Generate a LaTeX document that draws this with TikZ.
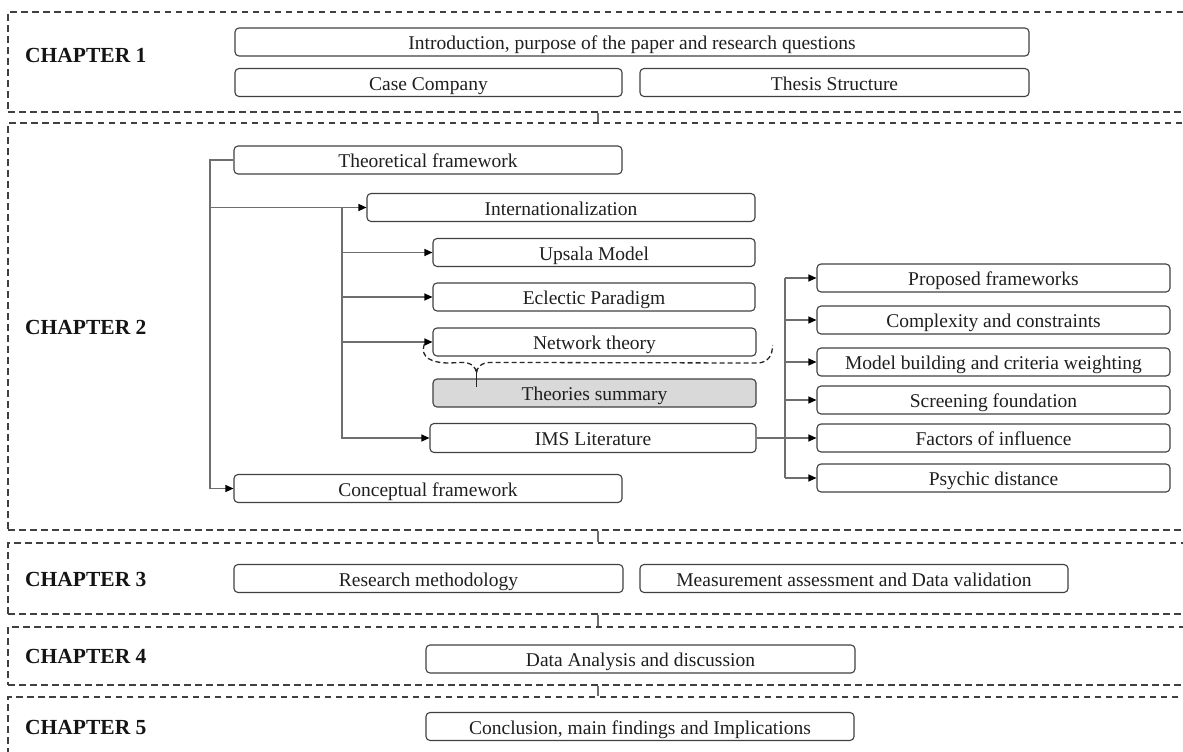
\documentclass[tikz,border=0pt]{standalone}
\usepackage{fontspec}
\setmainfont{Liberation Serif}
\usetikzlibrary{arrows.meta,calc}
\definecolor{bord}{HTML}{404040}
\definecolor{lin}{HTML}{6E6E6E}
\definecolor{dash}{HTML}{404040}
\definecolor{sumfill}{HTML}{D9D9D9}
\begin{document}
\begin{tikzpicture}[x=1pt,y=-1pt,
  bx/.style={draw=bord,line width=1.1pt,rounded corners=4pt,minimum height=28pt,inner sep=0pt,
     text height=16pt,text depth=1pt,
     text=black!88,font=\fontsize{19.5}{22}\selectfont},
  chap/.style={draw=dash,line width=1.1pt,dash pattern=on 6.5pt off 4.5pt,inner sep=0pt},
  chlab/.style={anchor=west,inner sep=0pt,text=black!92,font=\fontsize{21.5}{24}\selectfont\bfseries},
  conn/.style={draw=lin,line width=1.1pt},
  arr/.style={conn,-{Triangle[length=8pt,width=7pt,color=black]}},
  link/.style={draw=lin,line width=1.1pt}]
\useasboundingbox (0,0) rectangle (1183,752);

% chapter frames
\node[chap,minimum width=1192pt,minimum height=100pt] (c1) at (604,62) {};
\node[chap,minimum width=1192pt,minimum height=407pt] (c2) at (604,326.5) {};
\node[chap,minimum width=1192pt,minimum height=71pt] (c3) at (604,578.5) {};
\node[chap,minimum width=1192pt,minimum height=58pt] (c4) at (604,656) {};
\node[chap,minimum width=1192pt,minimum height=73pt] (c5) at (604,733.5) {};
\coordinate (lx) at (598,0);
\draw[link] (c1.south -| lx) -- (c2.north -| lx);
\draw[link] (c2.south -| lx) -- (c3.north -| lx);
\draw[link] (c3.south -| lx) -- (c4.north -| lx);
\draw[link] (c4.south -| lx) -- (c5.north -| lx);

% chapter labels
\node[chlab] (l1) at (25,55) {CHAPTER 1};
\node[chlab] (l2) at (25,327) {CHAPTER 2};
\node[chlab] (l3) at (25,579) {CHAPTER 3};
\node[chlab] (l4) at (25,656) {CHAPTER 4};
\node[chlab] (l5) at (25,727) {CHAPTER 5};

% chapter 1
\node[bx,minimum width=794pt] (intro) at (632,42) {Introduction, purpose of the paper and research questions};
\node[bx,minimum width=387pt] (case) at (428.5,82.5) {Case Company};
\node[bx,minimum width=389pt] (thesis) at (834.5,82.5) {Thesis Structure};

% chapter 2
\node[bx,minimum width=388pt] (theo) at (428,160) {Theoretical framework};
\node[bx,minimum width=388pt] (intl) at (561,207.5) {Internationalization};
\node[bx,minimum width=322pt] (upsala) at (594,252.5) {Upsala Model};
\node[bx,minimum width=322pt] (eclectic) at (594,297) {Eclectic Paradigm};
\node[bx,minimum width=323pt] (network) at (594.5,342) {Network theory};
\node[bx,minimum width=323pt,fill=sumfill] (summary) at (594.5,393) {Theories summary};
\node[bx,minimum width=326pt,minimum height=29pt] (ims) at (593,438) {IMS Literature};
\node[bx,minimum width=388pt] (concept) at (428,488.5) {Conceptual framework};

\node[bx,minimum width=353pt] (p1) at (993.5,278) {Proposed frameworks};
\node[bx,minimum width=353pt] (p2) at (993.5,320) {Complexity and constraints};
\node[bx,minimum width=353pt] (p3) at (993.5,362) {Model building and criteria weighting};
\node[bx,minimum width=353pt] (p4) at (993.5,400) {Screening foundation};
\node[bx,minimum width=353pt] (p5) at (993.5,438) {Factors of influence};
\node[bx,minimum width=353pt] (p6) at (993.5,478) {Psychic distance};

% connectors chapter 2
\coordinate (tl) at (210,0);
\coordinate (ml) at (342,0);
\coordinate (rl) at (785,0);
\draw[arr] (theo.west) -- (theo.west -| tl) |- (concept.west);
\draw[arr] (intl.west -| tl) -- (intl.west);
\draw[arr] (intl.west -| ml) |- (ims.west);
\draw[arr] (upsala.west -| ml) -- (upsala.west);
\draw[arr] (eclectic.west -| ml) -- (eclectic.west);
\draw[arr] (network.west -| ml) -- (network.west);

\draw[conn] (ims.east) -- (ims.east -| rl);
\draw[conn] (p1.west -| rl) -- (p6.west -| rl);
\foreach \p in {p1,p2,p3,p4,p5,p6}{\draw[arr] (\p.west -| rl) -- (\p.west);}

% dashed brace
\coordinate (bl) at ($(network.west)+(-8,2)$);
\coordinate (br) at ($(network.east)+(16,3)$);
\coordinate (bt) at ($(summary.north west)+(44,-5)$);
\draw[draw=black!85,line width=1.3pt,dash pattern=on 5pt off 3pt]
  (bl) .. controls ($(bl)+(-5,14)$) and ($(bl)+(8,19)$) .. ($(bl)+(25,19)$)
  -- ($(bt)+(-14,-11)$) .. controls ($(bt)+(-5,-11)$) and ($(bt)+(0,-6)$) .. (bt)
  .. controls ($(bt)+(0,-6)$) and ($(bt)+(5,-11)$) .. ($(bt)+(14,-11)$)
  -- ($(br)+(-16,18)$) .. controls ($(br)+(-4,18)$) and ($(br)+(0,10)$) .. (br);
\draw[black!85,line width=1.3pt] ($(bt)+(0,-3)$) -- ($(summary.north west)+(44,9)$);

% chapter 3-5
\node[bx,minimum width=389pt] (research) at (428.5,578.5) {Research methodology};
\node[bx,minimum width=428pt] (measure) at (854,578.5) {Measurement assessment and Data validation};
\node[bx,minimum width=429pt] (data) at (640.5,659) {Data Analysis and discussion};
\node[bx,minimum width=428pt] (concl) at (640,726.5) {Conclusion, main findings and Implications};
\end{tikzpicture}
\end{document}
